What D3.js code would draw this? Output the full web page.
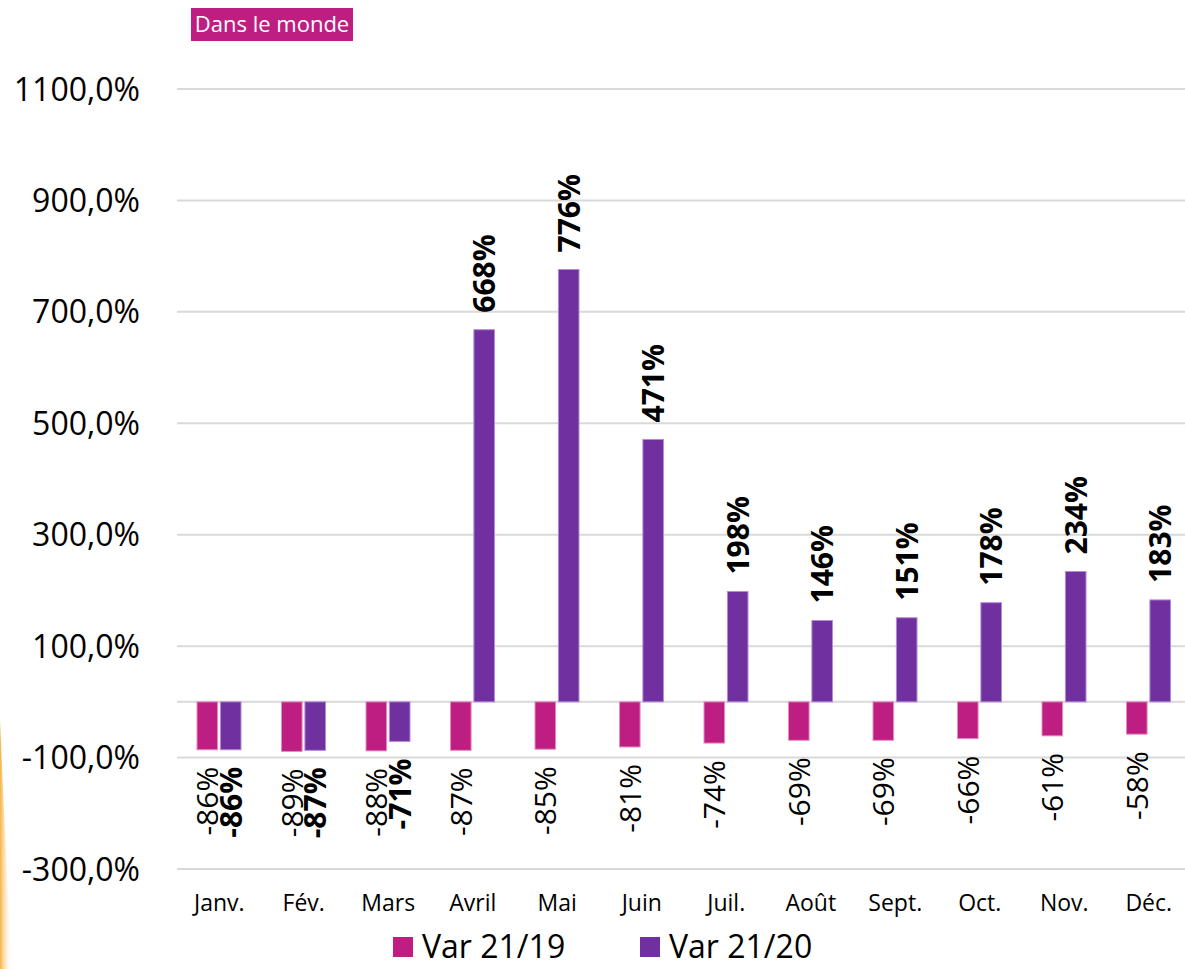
<!DOCTYPE html>
<html>
<head>
<meta charset="utf-8">
<script src="https://cdn.jsdelivr.net/npm/d3@7"></script>
<style>
  html, body { margin: 0; padding: 0; background: #fff; }
  svg { display: block; font-family: "Open Sans", sans-serif; }
</style>
</head>
<body>
<div id="chart"></div>
<script>
const months = ['Janv.', 'Fév.', 'Mars', 'Avril', 'Mai', 'Juin', 'Juil.', 'Août', 'Sept.', 'Oct.', 'Nov.', 'Déc.'];
const var2119 = [-86, -89, -88, -87, -85, -81, -74, -69, -69, -66, -61, -58];
const var2120 = [-86, -87, -71, 668, 776, 471, 198, 146, 151, 178, 234, 183];
const seriesNames = ['Var 21/19', 'Var 21/20'];
const seriesColors = ['#be1e82', '#7030a0'];
const seriesStrokes = ['#e48cc4', '#b38bd6'];
const yTicks = [1100, 900, 700, 500, 300, 100, -100, -300];

const width = 1185, height = 969;

const svg = d3.select('#chart').append('svg')
  .attr('width', width)
  .attr('height', height);

// faint orange edge on the left (slide background)
const defs = svg.append('defs');
const grad = defs.append('linearGradient').attr('id', 'edge').attr('x1', 0).attr('x2', 1);
grad.append('stop').attr('offset', '0%').attr('stop-color', '#f5a623').attr('stop-opacity', 0.85);
grad.append('stop').attr('offset', '100%').attr('stop-color', '#fff').attr('stop-opacity', 0);
svg.append('path')
  .attr('d', 'M0,720 C4,810 8,900 12,969 L0,969 Z')
  .attr('fill', 'url(#edge)');

const x = d3.scaleBand()
  .domain(months)
  .range([177, 1191]);

const x1 = d3.scaleBand()
  .domain([0, 1])
  .range([20, 64])
  .paddingInner(0.12);

const y = d3.scaleLinear()
  .domain([-300, 1100])
  .range([869, 89]);

const fmt = d => d.toFixed(1).replace('.', ',') + '%';

// gridlines
svg.append('g')
  .selectAll('line')
  .data(yTicks)
  .join('line')
  .attr('x1', 177).attr('x2', width)
  .attr('y1', d => y(d)).attr('y2', d => y(d))
  .attr('stroke', '#d9d9d9')
  .attr('stroke-width', 2);

// y axis labels
svg.append('g')
  .selectAll('text')
  .data(yTicks)
  .join('text')
  .attr('x', 140)
  .attr('y', d => y(d))
  .attr('dy', '0.36em')
  .attr('text-anchor', 'end')
  .attr('font-size', 32)
  .attr('fill', '#000')
  .text(fmt);

// zero line
svg.append('line')
  .attr('x1', 177).attr('x2', width)
  .attr('y1', y(0)).attr('y2', y(0))
  .attr('stroke', '#d9d9d9')
  .attr('stroke-width', 2);

const series = [var2119, var2120];

series.forEach((vals, si) => {
  const g = svg.append('g');
  g.selectAll('rect')
    .data(vals)
    .join('rect')
    .attr('x', (d, i) => x(months[i]) + x1(si))
    .attr('width', x1.bandwidth())
    .attr('y', d => y(Math.max(0, d)))
    .attr('height', d => Math.abs(y(d) - y(0)))
    .attr('fill', seriesColors[si])
    .attr('stroke', seriesStrokes[si])
    .attr('stroke-width', 1);

  g.selectAll('text')
    .data(vals)
    .join('text')
    .attr('transform', (d, i) => {
      const cx = x(months[i]) + x1(si) + x1.bandwidth() / 2;
      const cy = d >= 0 ? y(d) - 17 : y(d) + 17;
      return `translate(${cx},${cy}) rotate(-90)`;
    })
    .attr('dy', '0.36em')
    .attr('text-anchor', d => d >= 0 ? 'start' : 'end')
    .attr('font-size', 30)
    .attr('font-weight', si === 1 ? 'bold' : 'normal')
    .attr('fill', '#000')
    .text(d => d + '%');
});

// month labels
svg.append('g')
  .selectAll('text')
  .data(months)
  .join('text')
  .attr('x', d => x(d) + x.bandwidth() / 2)
  .attr('y', 911)
  .attr('text-anchor', 'middle')
  .attr('font-size', 23)
  .attr('fill', '#000')
  .text(d => d);

// legend
const legendX = [393, 640];
const legend = svg.append('g');
seriesNames.forEach((name, i) => {
  legend.append('rect')
    .attr('x', legendX[i]).attr('y', 937)
    .attr('width', 20).attr('height', 20)
    .attr('fill', seriesColors[i]);
  legend.append('text')
    .attr('x', legendX[i] + 29)
    .attr('y', 958)
    .attr('font-size', 32)
    .attr('fill', '#000')
    .text(name);
});

// title tag
svg.append('rect')
  .attr('x', 191).attr('y', 8)
  .attr('width', 162).attr('height', 33)
  .attr('fill', '#be1e82');
svg.append('text')
  .attr('x', 272).attr('y', 32)
  .attr('text-anchor', 'middle')
  .attr('font-size', 22)
  .attr('fill', '#fff')
  .text('Dans le monde');
</script>
</body>
</html>
